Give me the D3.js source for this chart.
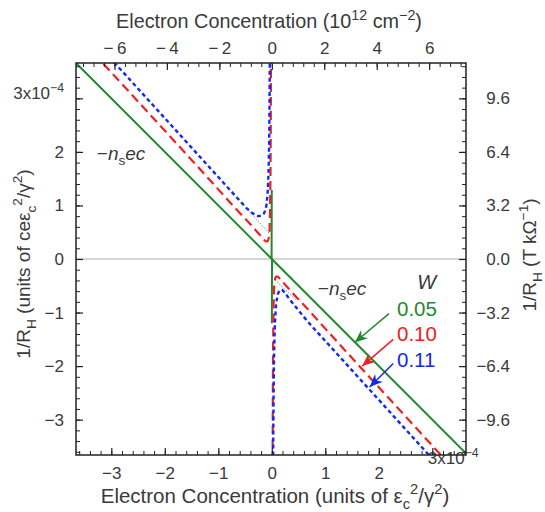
<!DOCTYPE html>
<html>
<head>
<meta charset="utf-8">
<script src="https://cdn.jsdelivr.net/npm/d3@7"></script>
<style>
    body { margin: 0; background: #fff; }
    text { font-family: "Liberation Sans", Arial, sans-serif; fill: #3a3a3a; }
</style>
</head>
<body>
<div id="chart"></div>
<script>
// axis ranges (units of 1e-4) and ticks
const xDomain = [-3.66, 3.63];
const yDomain = [-3.66, 3.66];
const bottomTicks = [-3, -2, -1, 0, 1, 2, 3];
const leftTicks = [-3, -2, -1, 0, 1, 2, 3];
const topTicks = [-6, -4, -2, 0, 2, 4, 6];
const rightTicks = [-9.6, -6.4, -3.2, 0, 3.2, 6.4, 9.6];
const topPerUnit = 2.04;   // 10^12 cm^-2 per 1e-4 unit
const rightPerUnit = 3.2;  // T/kOhm per 1e-4 unit

// W = 0.05 (green)
const greenLeft = [[-3.8, 3.8], [-0.004, 0.004], [-0.001, 1.29]];
const greenRight = [[0.001, -1.2], [0.004, -0.004], [3.8, -3.8]];

// W = 0.10 (red)
const redLeft = [[-3.5, 4.03], [-2.5, 2.94], [-1.5, 1.85], [-1.0, 1.30], [-0.6, 0.86], [-0.4, 0.65],
    [-0.25, 0.48], [-0.15, 0.37], [-0.11, 0.33], [-0.08, 0.33], [-0.06, 0.38], [-0.045, 0.5],
    [-0.035, 0.8], [-0.028, 1.3], [-0.022, 2.0], [-0.018, 3.0], [-0.015, 3.8]];
const redRight = [[0.015, -3.8], [0.018, -3.0], [0.022, -2.0], [0.028, -1.3], [0.035, -0.8],
    [0.045, -0.5], [0.06, -0.38], [0.08, -0.33], [0.11, -0.33], [0.15, -0.37], [0.25, -0.48],
    [0.4, -0.65], [0.6, -0.86], [1.0, -1.30], [1.5, -1.85], [2.5, -2.94], [3.5, -4.03]];

// W = 0.11 (blue)
const blueLeft = [[-3.3, 4.06], [-2.5, 3.18], [-1.5, 2.08], [-1.0, 1.53], [-0.6, 1.09], [-0.45, 0.93],
    [-0.35, 0.85], [-0.26, 0.80], [-0.18, 0.82], [-0.12, 0.92], [-0.09, 1.1], [-0.07, 1.4],
    [-0.055, 1.9], [-0.045, 2.6], [-0.04, 3.3], [-0.037, 3.8]];
const blueRight = [[0.025, -3.8], [0.03, -3.0], [0.037, -2.2], [0.05, -1.5], [0.07, -1.0], [0.1, -0.72],
    [0.14, -0.6], [0.18, -0.57], [0.24, -0.63], [0.34, -0.76], [0.5, -0.96], [0.7, -1.2],
    [1.0, -1.53], [1.5, -2.08], [2.0, -2.63], [2.5, -3.18], [3.0, -3.73], [3.3, -4.06]];

// thin gray asymptote pieces
const grayLeft = [[-0.45, 0.92], [-0.05, 0.48]];
const grayRight = [[0.1, -0.43], [0.45, -0.76]];

// legend
const legendLabels = ["0.05", "0.10", "0.11"];
const legendColors = ["#1f8a2e", "#f02020", "#1428f0"];
const arrowFrom = [[2.19, -1.02], [2.27, -1.50], [2.27, -1.95]];
const arrowTo = [[1.55, -1.56], [1.69, -2.0], [1.83, -2.39]];

const width = 545;
const height = 512;
const margin = { top: 63, right: 79, bottom: 57, left: 76 };

const svg = d3.select("#chart")
    .append("svg")
    .attr("width", width)
    .attr("height", height);

const xScale = d3.scaleLinear().domain(xDomain).range([margin.left, width - margin.right]);
const yScale = d3.scaleLinear().domain(yDomain).range([height - margin.bottom, margin.top]);
const topScale = d3.scaleLinear().domain(xDomain.map(d => d * topPerUnit)).range(xScale.range());
const rightScale = d3.scaleLinear().domain(yDomain.map(d => d * rightPerUnit)).range(yScale.range());

const minus = v => String(v).replace("-", "\u2212");

// add text with sub/superscripts: parts = [[string, "sub"|"sup"|null], ...]
function richText(sel, parts, size) {
    let shift = 0;
    parts.forEach(p => {
        let target = p[1] === "sub" ? 0.3 * size : p[1] === "sup" ? -0.42 * size : 0;
        sel.append("tspan")
            .attr("dy", target - shift)
            .style("font-size", p[1] ? (size * 0.72) + "px" : size + "px")
            .text(p[0]);
        shift = target;
    });
}

svg.append("defs").append("clipPath")
    .attr("id", "plot-clip")
    .append("rect")
    .attr("x", margin.left)
    .attr("y", margin.top)
    .attr("width", width - margin.left - margin.right)
    .attr("height", height - margin.top - margin.bottom);

// zero line
svg.append("line")
    .attr("x1", xScale(xDomain[0]))
    .attr("x2", xScale(xDomain[1]))
    .attr("y1", yScale(0))
    .attr("y2", yScale(0))
    .attr("stroke", "#c8c8c8")
    .attr("stroke-width", 1.5);

// curves
const line = d3.line().x(d => xScale(d[0])).y(d => yScale(d[1]));
const curves = svg.append("g").attr("clip-path", "url(#plot-clip)");

[grayLeft, grayRight].forEach(data => {
    curves.append("path")
        .attr("d", line(data))
        .attr("fill", "none")
        .attr("stroke", "#888")
        .attr("stroke-width", 1)
        .attr("stroke-dasharray", "1.5,1.5");
});

[greenLeft, greenRight].forEach(data => {
    curves.append("path")
        .attr("d", line(data))
        .attr("fill", "none")
        .attr("stroke", legendColors[0])
        .attr("stroke-width", 2);
});

const smooth = d3.line().x(d => xScale(d[0])).y(d => yScale(d[1])).curve(d3.curveMonotoneX);

[redLeft, redRight].forEach(data => {
    curves.append("path")
        .attr("d", smooth(data))
        .attr("fill", "none")
        .attr("stroke", legendColors[1])
        .attr("stroke-width", 2.2)
        .attr("stroke-dasharray", "9,5");
});

[blueLeft, blueRight].forEach(data => {
    curves.append("path")
        .attr("d", smooth(data))
        .attr("fill", "none")
        .attr("stroke", legendColors[2])
        .attr("stroke-width", 2.4)
        .attr("stroke-dasharray", "4,3");
});

// axes: inward ticks
function minorValues(scale, step) {
    const d = scale.domain();
    const out = [];
    for (let v = Math.ceil(d[0] / step) * step; v <= d[1]; v += step) out.push(+v.toFixed(4));
    return out;
}

const plotW = width - margin.left - margin.right;
const plotH = height - margin.top - margin.bottom;

function drawAxis(axisFn, scale, ticks, minorStep, transform, format, cls) {
    svg.append("g")
        .attr("transform", transform)
        .call(axisFn(scale).tickValues(minorValues(scale, minorStep)).tickSize(-4).tickFormat(""))
        .call(g => g.select(".domain").remove())
        .selectAll("line").attr("stroke", "#222").attr("stroke-width", 1);

    const g = svg.append("g")
        .attr("class", cls)
        .attr("transform", transform)
        .call(axisFn(scale).tickValues(ticks).tickSizeInner(-7).tickSizeOuter(0).tickPadding(9).tickFormat(format));
    g.select(".domain").remove();
    g.selectAll("line").attr("stroke", "#222").attr("stroke-width", 1.2);
    g.selectAll("text").style("font-size", "17px").attr("fill", "#3a3a3a");
    return g;
}

const bottomAxis = drawAxis(d3.axisBottom, xScale, bottomTicks, 0.2,
    `translate(0,${margin.top + plotH})`, d => minus(d), "x-axis");
bottomAxis.selectAll("text").attr("dy", "0.9em");
bottomAxis.selectAll(".tick").filter(d => d === 3).select("text")
    .attr("text-anchor", "start")
    .attr("dx", -5)
    .text(null)
    .call(t => richText(t, [["3x10", null], ["\u22124", "sup"]], 17));

const leftAxis = drawAxis(d3.axisLeft, yScale, leftTicks, 0.2,
    `translate(${margin.left},0)`, d => minus(d), "y-axis");
leftAxis.selectAll("text").attr("x", -12);
leftAxis.selectAll(".tick").filter(d => d === 3).select("text")
    .text(null)
    .call(t => richText(t, [["3x10", null], ["\u22124", "sup"]], 17));

drawAxis(d3.axisTop, topScale, topTicks, 0.4,
    `translate(0,${margin.top})`, d => d < 0 ? "\u2212\u2009" + (-d) : String(d), "top-axis")
    .selectAll("text").attr("y", -9);

const rightAxis = drawAxis(d3.axisRight, rightScale, rightTicks, 0.64,
    `translate(${margin.left + plotW},0)`, d => minus(d3.format(".1f")(d)), "right-axis");
rightAxis.selectAll("text").attr("text-anchor", "end").attr("x", 44);

// frame
svg.append("rect")
    .attr("x", margin.left)
    .attr("y", margin.top)
    .attr("width", plotW)
    .attr("height", plotH)
    .attr("fill", "none")
    .attr("stroke", "#222")
    .attr("stroke-width", 1.5);

// axis titles
svg.append("text")
    .attr("x", 269)
    .attr("y", 28)
    .attr("text-anchor", "middle")
    .call(t => richText(t, [["Electron Concentration  (10", null], ["12", "sup"], [" cm", null], ["\u22122", "sup"], [")", null]], 19.8));

svg.append("text")
    .attr("x", 275)
    .attr("y", 503)
    .attr("text-anchor", "middle")
    .call(t => richText(t, [["Electron Concentration (units of \u03b5", null], ["c", "sub"], ["2", "sup"], ["/\u03b3", null], ["2", "sup"], [")", null]], 20.5));

svg.append("text")
    .attr("transform", "translate(30,264) rotate(-90)")
    .attr("text-anchor", "middle")
    .call(t => richText(t, [["1/R", null], ["H", "sub"], [" (units of ce\u03b5", null], ["c", "sub"], ["2", "sup"], ["/\u03b3", null], ["2", "sup"], [")", null]], 19));

svg.append("text")
    .attr("transform", "translate(536,255) rotate(-90)")
    .attr("text-anchor", "middle")
    .call(t => richText(t, [["1/R", null], ["H", "sub"], [" (T k\u03a9", null], ["\u22121", "sup"], [")", null]], 19));

// -n_s e c labels
function nsLabel(x, y) {
    const t = svg.append("text")
        .attr("x", xScale(x))
        .attr("y", yScale(y))
        .style("font-size", "19px");
    t.append("tspan").text("\u2212");
    t.append("tspan").style("font-style", "italic").text("n");
    t.append("tspan").attr("dy", 5).style("font-size", "13.5px").text("s");
    t.append("tspan").attr("dy", -5).style("font-style", "italic").text("ec");
}
nsLabel(-3.27, 1.85);
nsLabel(0.86, -0.67);

// legend with arrows
svg.append("text")
    .attr("x", xScale(2.72))
    .attr("y", yScale(-0.56))
    .style("font-size", "20px")
    .style("font-style", "italic")
    .text("W");

const defs = svg.select("defs");
legendColors.forEach((c, i) => {
    defs.append("marker")
        .attr("id", "arrow" + i)
        .attr("viewBox", "-14 -7 16 14")
        .attr("refX", 0)
        .attr("refY", 0)
        .attr("markerWidth", 16)
        .attr("markerHeight", 14)
        .attr("markerUnits", "userSpaceOnUse")
        .attr("orient", "auto")
        .append("path")
        .attr("d", "M0,0 L-13,-5.5 L-9,0 L-13,5.5 Z")
        .attr("fill", c);
});

legendLabels.forEach((label, i) => {
    svg.append("text")
        .attr("x", xScale(2.34))
        .attr("y", yScale(-1.07 - i * 0.47))
        .style("font-size", "20.5px")
        .style("fill", legendColors[i])
        .text(label);

    svg.append("line")
        .attr("x1", xScale(arrowFrom[i][0]))
        .attr("y1", yScale(arrowFrom[i][1]))
        .attr("x2", xScale(arrowTo[i][0]))
        .attr("y2", yScale(arrowTo[i][1]))
        .attr("stroke", legendColors[i])
        .attr("stroke-width", 1.5)
        .attr("marker-end", `url(#arrow${i})`);
});
</script>
</body>
</html>
